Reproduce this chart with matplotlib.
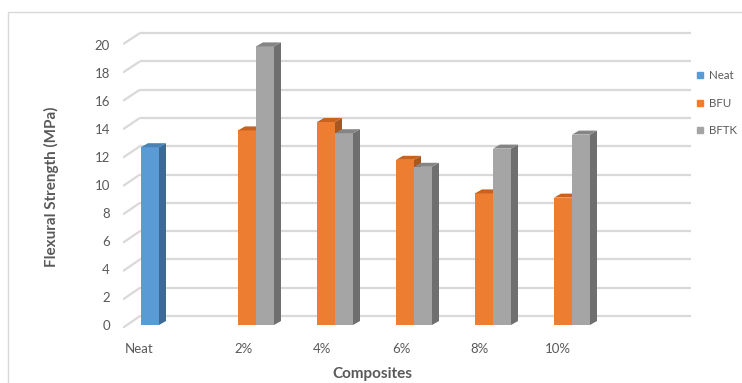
import matplotlib
matplotlib.use("Agg")
import matplotlib.pyplot as plt
from matplotlib.patches import Polygon, Rectangle
from matplotlib.lines import Line2D
from matplotlib.transforms import ScaledTranslation

# === Data ===
categories = ["Neat", "2%", "4%", "6%", "8%", "10%"]
series_names = ["Neat", "BFU", "BFTK"]
neat_vals = [12.7, None, None, None, None, None]
bfu_vals = [None, 13.9, 14.5, 11.8, 9.4, 9.1]
bftk_vals = [None, 19.9, 13.7, 11.3, 12.6, 13.6]
y_ticks = [0, 2, 4, 6, 8, 10, 12, 14, 16, 18, 20]

# === Style ===
W, H = 742, 383
FRONT = ["#5b9bd5", "#ed7d31", "#a5a5a5"]
SIDE = ["#3d6a93", "#a9561f", "#6f6f6f"]
TOP = ["#4a82b5", "#c9621f", "#858585"]
GRID = "#d9d9d9"
TXT = "#595959"
FONT = ["Lato", "DejaVu Sans"]
plt.rcParams["font.family"] = FONT

PX_X = 79.0   # pixels per category
PX_Y = 14.0   # pixels per unit
BAR_W = 18 / PX_X
DDX, DDY = 7 / PX_X, 4 / PX_Y          # bar depth
WALL_DX = 17 / PX_X                     # back wall offset


def wall_y(v):
    return (9 + 14.15 * v) / PX_Y


def front_y(v):
    return -0.2 + 1.013 * v


fig = plt.figure(figsize=(W / 100, H / 100), dpi=100)
ax = fig.add_axes([123 / W, (H - 328) / H, (700 - 123) / W, (328 - 20) / H])
ax.set_xlim((123 - 168) / PX_X, (700 - 168) / PX_X)
ax.set_ylim(-3 / PX_Y, 305 / PX_Y)
for s in ax.spines.values():
    s.set_visible(False)

# chart border
fig.add_artist(Rectangle((8 / W, -0.05), 1.1, (H - 12) / H + 0.05,
                         transform=fig.transFigure, fill=False,
                         edgecolor=GRID, lw=1.0))

# === Gridlines (side wall + back wall) ===
x_left = ax.get_xlim()[0]
x_back = x_left + WALL_DX
x_right = (691 - 168) / PX_X
for v in y_ticks:
    ax.plot([x_left, x_back], [front_y(v), wall_y(v)], color=GRID, lw=1.6,
            solid_capstyle="butt", zorder=1)
    ax.plot([x_back, x_right], [wall_y(v), wall_y(v)], color=GRID, lw=1.6,
            solid_capstyle="butt", zorder=1)

# === Bars ===
all_vals = [neat_vals, bfu_vals, bftk_vals]
for s, vals in enumerate(all_vals):
    for i, h in enumerate(vals):
        if h is None:
            continue
        x = i + (s - 1) * BAR_W
        ax.bar(x, h, width=BAR_W, color=FRONT[s], zorder=3 + s, lw=0)
        xr = x + BAR_W / 2
        xl = x - BAR_W / 2
        ax.add_patch(Polygon([(xr, 0), (xr + DDX, DDY), (xr + DDX, h + DDY), (xr, h)],
                             closed=True, facecolor=SIDE[s], lw=0, zorder=3 + s))
        ax.add_patch(Polygon([(xl, h), (xr, h), (xr + DDX, h + DDY), (xl + DDX, h + DDY)],
                             closed=True, facecolor=TOP[s], lw=0, zorder=3 + s))

# === Ticks ===
ax.set_yticks(y_ticks)
ax.set_yticklabels([str(v) for v in y_ticks])
ax.set_xticks(range(len(categories)))
ax.set_xticklabels(categories)
ax.tick_params(axis="y", length=0, pad=9.4, labelsize=9.5, labelcolor=TXT)
ax.tick_params(axis="x", length=0, pad=10.5, labelsize=9.5, labelcolor=TXT)
label_shift = [-29, -3, -4, -4, -4, -5]
for lab, dx in zip(ax.get_xticklabels(), label_shift):
    lab.set_transform(lab.get_transform() + ScaledTranslation(dx / 100, 0, fig.dpi_scale_trans))

# axis titles
fig.text(372 / W, 1 - 374 / H, "Composites", ha="center", va="center",
         fontsize=11, fontweight="bold", color=TXT)
fig.text(51 / W, 1 - 187 / H, "Flexural Strength (MPa)", ha="center", va="center",
         rotation=90, fontsize=11, fontweight="bold", color=TXT)

# === Legend ===
handles = [Line2D([], [], marker="s", ls="none", markersize=5,
                  markerfacecolor=c, markeredgecolor=c) for c in FRONT]
fig.legend(handles, series_names, loc="upper left",
           bbox_to_anchor=(696 / W, 1 - 70 / H), frameon=False,
           fontsize=8.3, labelcolor=TXT, handlelength=0.7, handletextpad=0.45,
           labelspacing=1.45, borderpad=0, borderaxespad=0)

fig.savefig("out.png", dpi=100)
